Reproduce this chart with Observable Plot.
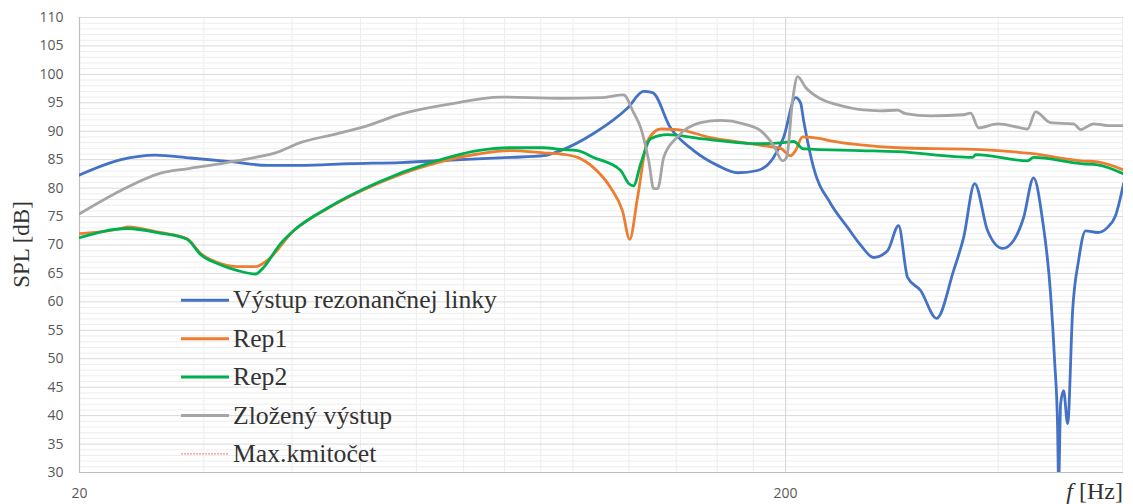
<!DOCTYPE html>
<html><head><meta charset="utf-8">
<script src="https://cdn.jsdelivr.net/npm/d3@7"></script>
<script src="https://cdn.jsdelivr.net/npm/@observablehq/plot@0.6"></script>
<style>html,body{margin:0;padding:0;background:#fff;}</style>
</head><body><div id="chart"></div>
<script>
// ---- data (frequency in Hz, level in dB) ----
const freqBlue = [20.0,22.9,25.6,28.7,33.0,36.9,41.1,48.4,57.0,69.3,81.6,90.8,96.0,106.9,119.5,125.9,129.6,137.4,148.2,160.2,171.0,182.5,192.3,198.7,206.6,210.0,212.1,219.1,231.6,244.8,255.4,266.5,278.9,289.1,297.7,310.6,327.3,345.9,357.4,370.5,386.5,405.9,420.7,434.6,449.0,462.4,474.6,480.9,485.6,487.2,490.4,495.2,501.7,510.0,520.0,532.0,553.3,571.6,586.7,602.2];
const dbBlue = [82.3,85.0,85.8,85.3,84.6,84.0,84.0,84.3,84.5,85.0,85.4,85.7,86.6,89.6,94.1,97.0,96.8,90.6,86.6,84.0,82.7,83.1,85.4,88.9,95.9,95.0,91.9,83.6,77.3,73.1,70.0,67.8,69.0,73.4,64.3,62.0,57.1,65.5,71.3,80.8,72.5,69.4,70.8,74.8,81.8,74.3,61.4,49.6,37.9,28.0,42.1,44.4,38.6,58.5,67.3,72.5,72.2,73.1,75.2,80.8];

const freqRep1 = [20.0,22.9,23.4,26.0,28.4,29.7,31.4,33.5,35.5,36.9,40.2,44.9,52.9,62.2,73.3,81.6,90.8,96.0,101.5,106.9,113.0,117.5,120.3,123.4,127.5,133.1,140.6,156.6,174.4,192.3,196.8,203.3,206.6,211.4,224.2,231.6,255.4,288.2,369.3,444.6,523.4,553.3,602.2];
const dbRep1 = [72.0,72.9,73.2,72.2,71.1,68.5,66.9,66.2,66.2,67.3,72.5,76.4,80.8,84.0,86.0,86.6,86.2,86.0,85.4,83.6,80.1,76.0,71.0,78.3,88.3,90.4,90.3,88.9,88.0,87.2,87.0,85.7,86.6,89.0,88.7,88.3,87.6,87.1,86.8,86.1,84.8,84.6,83.2];

const freqRep2 = [20.0,23.4,26.0,28.4,29.7,31.4,33.5,35.5,36.3,38.5,40.2,44.9,52.9,62.2,73.3,81.6,90.8,96.0,101.5,106.9,116.8,119.9,121.8,124.7,128.8,136.1,151.6,184.3,198.7,205.3,212.1,255.4,288.2,368.1,371.7,440.3,449.0,523.4,553.3,602.2];
const dbRep2 = [71.3,72.9,72.1,71.0,68.3,66.7,65.5,64.9,65.8,70.2,72.5,76.5,81.0,84.3,86.6,87.1,87.1,86.8,86.6,85.4,83.1,80.8,80.4,84.3,88.7,89.4,88.7,87.8,88.0,88.2,86.9,86.6,86.4,85.4,85.9,84.8,85.4,84.3,84.1,82.5];

const freqSum = [20.0,22.9,26.0,28.4,31.7,35.5,37.9,41.1,46.1,51.2,57.0,67.1,78.9,96.0,109.4,117.9,121.8,124.7,128.0,130.1,131.8,134.4,140.6,151.6,161.8,174.4,184.3,192.3,198.1,200.7,204.6,208.0,213.5,224.2,239.3,255.4,272.6,288.2,295.8,320.9,357.4,365.7,375.3,399.3,430.4,440.3,452.0,474.6,511.6,523.4,546.1,571.6,602.2];
const dbSum = [75.5,79.6,82.6,83.4,84.3,85.4,86.2,88.0,89.5,91.0,93.0,94.8,96.0,95.8,95.9,96.4,93.3,90.6,84.8,79.9,79.9,85.4,89.0,91.5,91.9,91.3,90.1,87.5,84.8,85.4,95.4,99.6,97.7,95.7,94.5,93.8,93.6,93.7,93.1,92.7,92.9,93.2,90.6,91.3,90.6,90.4,93.4,91.5,91.3,90.3,91.3,91.0,91.0];

const seriesNames = ["Výstup rezonančnej linky","Rep1","Rep2","Zložený výstup","Max.kmitočet"];
const seriesColors = ["#4472C4","#ED7D31","#00B050","#A5A5A5","#FF8F8F"];

const xTickValues = [20,200];
const xMinorGrid = [30,40,50,60,70,80,90,100,120,140,160,180,400,600];
const yTickValues = [30,35,40,45,50,55,60,65,70,75,80,85,90,95,100,105,110];
const yMinorGrid = d3.range(31,110).filter(v => v % 5 !== 0);
const xLabel = "[Hz]";
const yLabel = "SPL [dB]";

function rows(f, v) { return f.map((x, i) => ({f: x, db: v[i]})); }
const seriesData = [rows(freqBlue, dbBlue), rows(freqRep1, dbRep1), rows(freqRep2, dbRep2), rows(freqSum, dbSum)];

const chart = Plot.plot({
  width: 1133, height: 504,
  marginLeft: 79, marginRight: 10, marginTop: 17, marginBottom: 32,
  style: {fontFamily: "'Open Sans', sans-serif", fontSize: "14px", background: "#fff", color: "#595959"},
  x: {type: "log", domain: [20, 602]},
  y: {domain: [30, 110]},
  marks: [
    Plot.ruleY(yMinorGrid, {stroke: "#ededed", strokeWidth: 1}),
    Plot.ruleX(xMinorGrid, {stroke: "#ededed", strokeWidth: 1}),
    Plot.ruleY(yTickValues, {stroke: "#d9d9d9", strokeWidth: 1}),
    Plot.ruleX([200], {stroke: "#d9d9d9", strokeWidth: 1.2}),
    Plot.axisY({ticks: yTickValues, tickSize: 0, tickPadding: 16, label: null}),
    Plot.axisX({ticks: xTickValues, tickSize: 0, tickPadding: 16, label: null, tickFormat: d => String(d)}),
    Plot.ruleX([20], {stroke: "#bfbfbf", strokeWidth: 1.2}),
    Plot.ruleY([30], {stroke: "#bfbfbf", strokeWidth: 1.2}),
    ...seriesData.map((d, i) => Plot.line(d, {x: "f", y: "db", stroke: seriesColors[i], strokeWidth: 2.8, curve: "monotone-x", clip: true}))
  ]
});
document.getElementById("chart").appendChild(chart);

// legend and axis titles
const svg = d3.select(chart);
const serif = "'Liberation Serif', 'Times New Roman', serif";
const lg = svg.append("g").attr("font-family", serif).attr("font-size", 25.7).attr("fill", "#333").attr("text-anchor", "start");
seriesNames.forEach((name, i) => {
  const yb = 308.3 + i * 38.4;
  const line = lg.append("line").attr("x1", 181).attr("x2", 229).attr("y1", yb - 8).attr("y2", yb - 8)
    .attr("stroke", seriesColors[i]);
  if (i === 4) line.attr("stroke-width", 1.2).attr("stroke-dasharray", "2,1");
  else line.attr("stroke-width", 3);
  lg.append("text").attr("x", 233).attr("y", yb).attr("text-anchor", "start").text(name);
});
svg.append("text").attr("font-family", serif).attr("font-size", 23).attr("fill", "#333")
  .attr("text-anchor", "middle").attr("transform", "translate(29,244.5) rotate(-90)").text(yLabel);
const xl = svg.append("text").attr("font-family", serif).attr("font-size", 24).attr("fill", "#333")
  .attr("text-anchor", "end").attr("x", 1123).attr("y", 499);
xl.append("tspan").attr("font-style", "italic").text("f");
xl.append("tspan").text(" " + xLabel);
</script>
</body></html>
